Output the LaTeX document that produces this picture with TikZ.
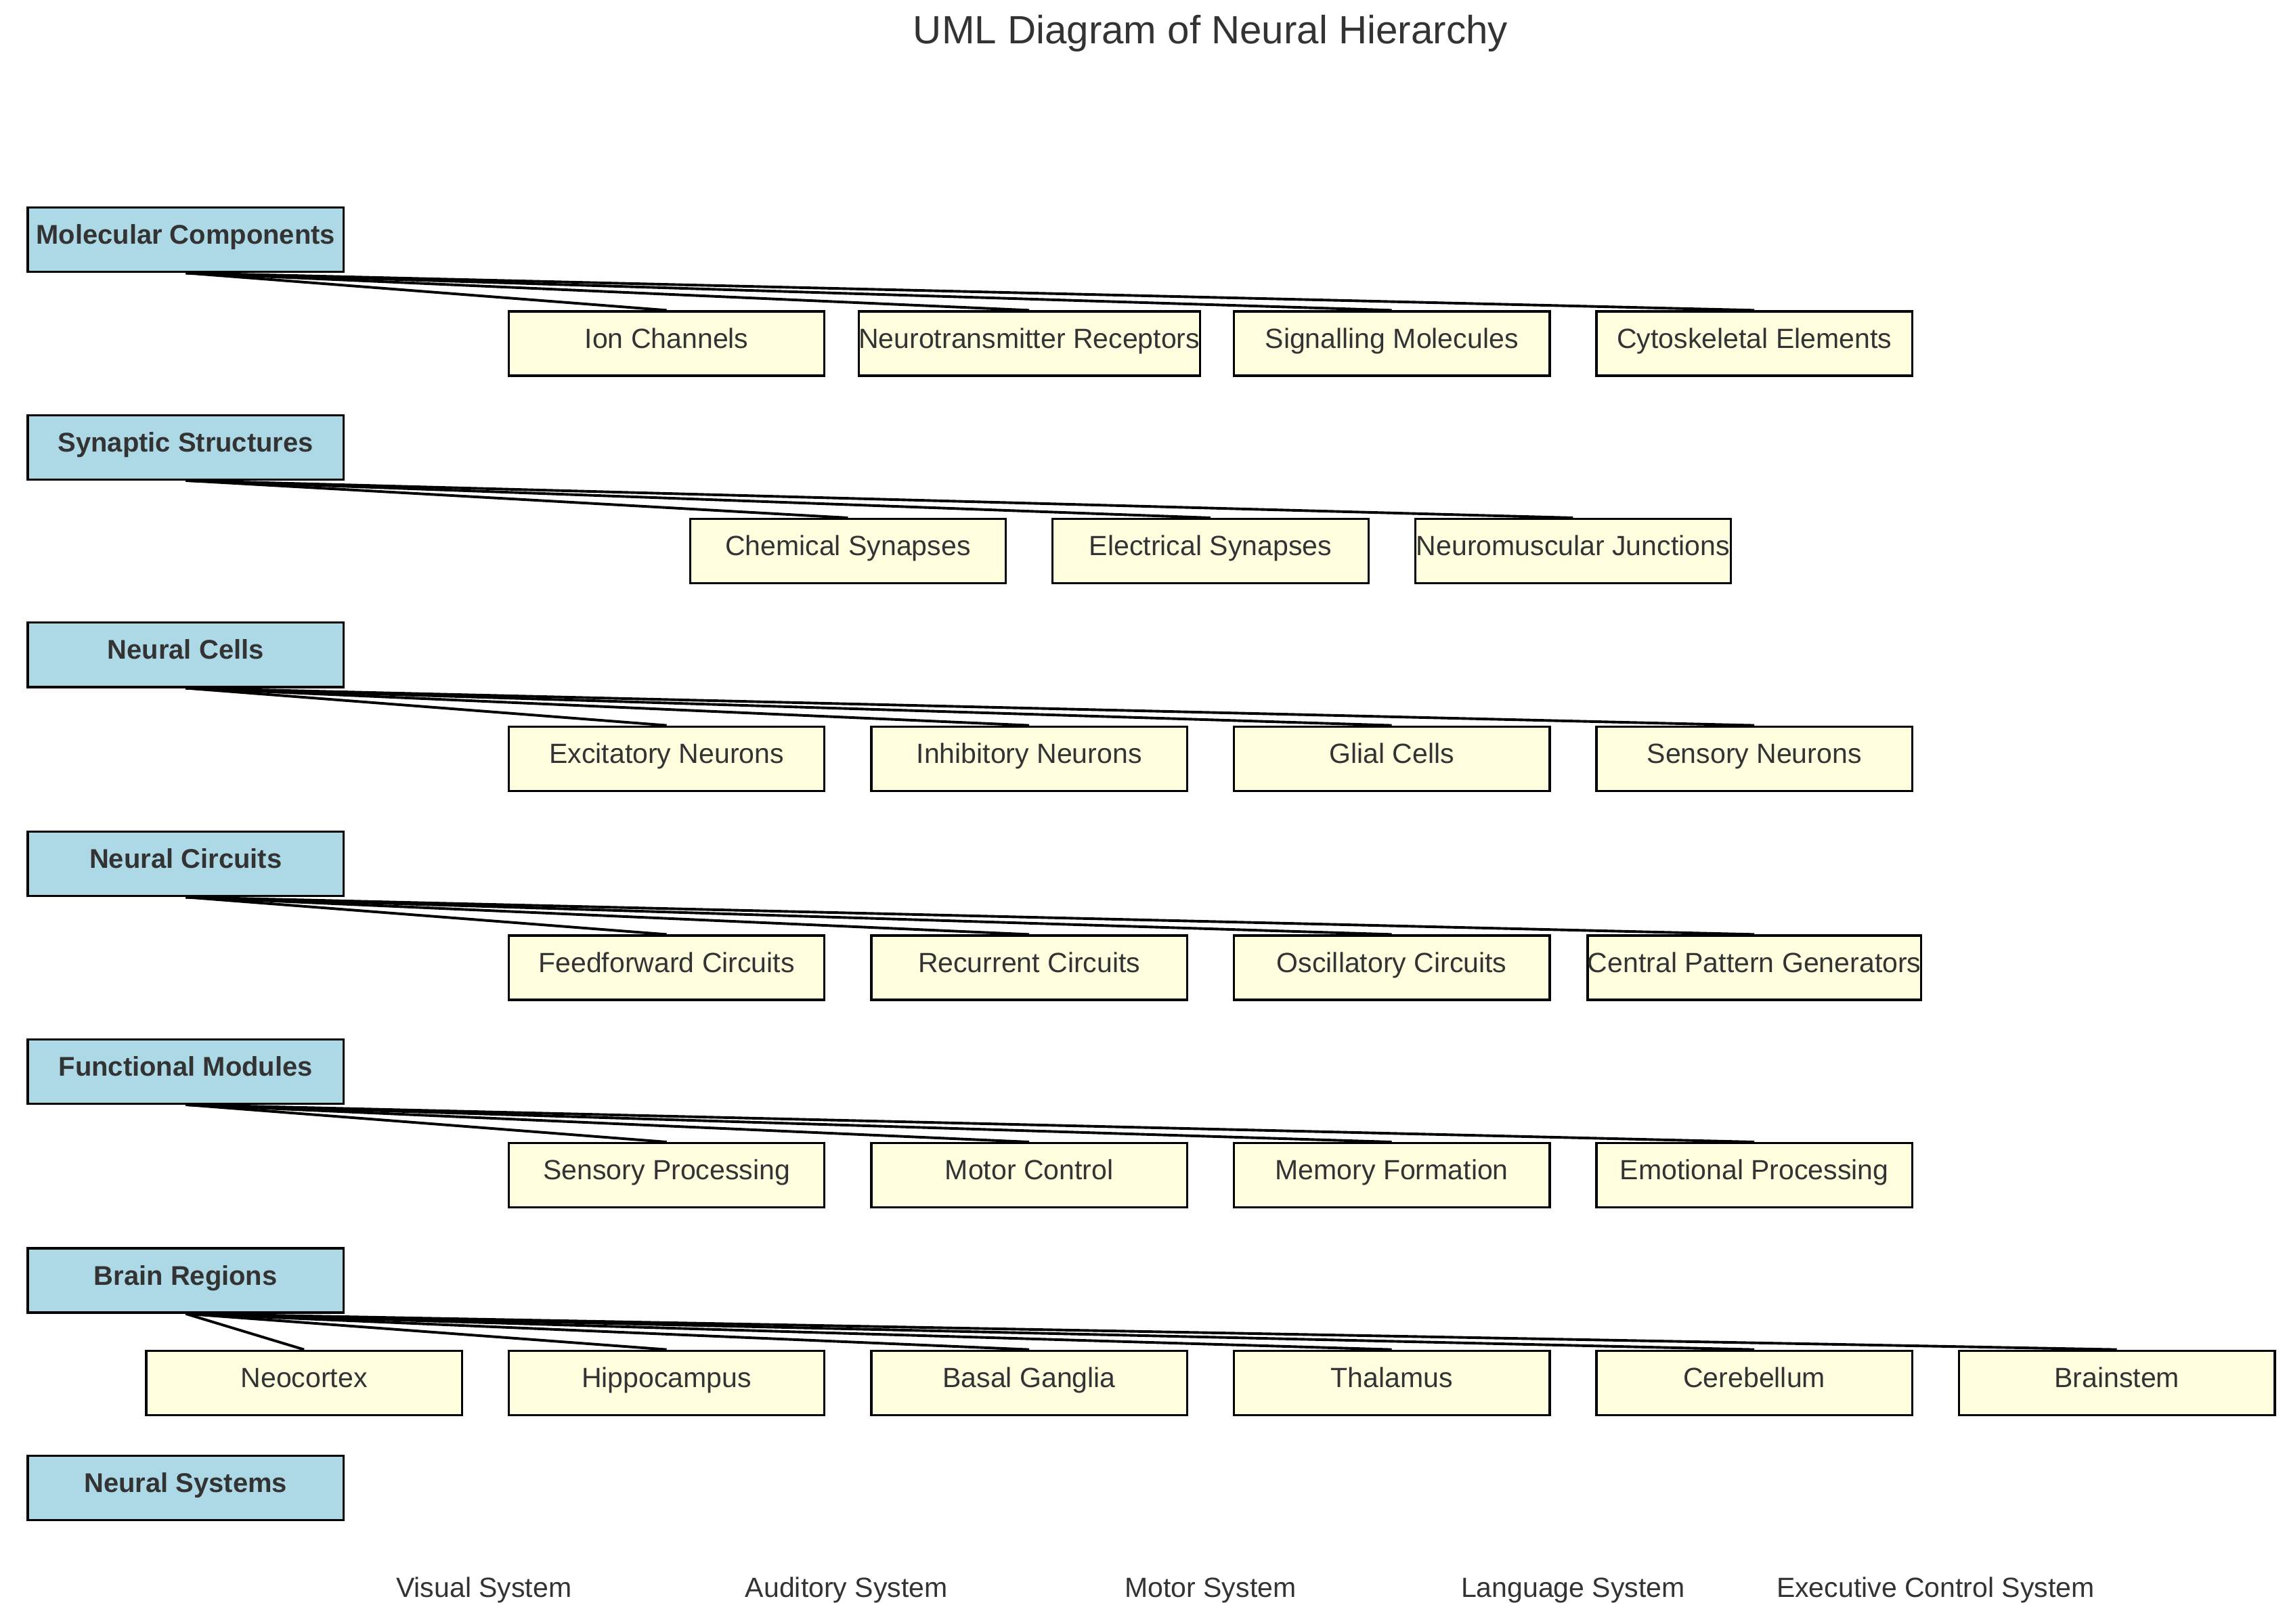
\documentclass[tikz,border=0pt]{standalone}
\usepackage{fontspec}
\setmainfont{Liberation Sans}
\definecolor{parentblue}{HTML}{ADD8E6}
\definecolor{childyellow}{HTML}{FFFFE0}
\definecolor{txtgray}{HTML}{333333}
\begin{document}
\begin{tikzpicture}[x=1pt,y=-1pt,
  box/.style={draw=black, line width=1.5pt, minimum width=216pt, minimum height=44pt, inner sep=0pt, text=txtgray, text height=1.45ex, text depth=.3ex},
  parent/.style={box, fill=parentblue, font=\fontsize{18.5}{22}\selectfont\bfseries},
  child/.style={box, fill=childyellow, font=\fontsize{19}{22}\selectfont},
  plain/.style={font=\fontsize{19}{22}\selectfont, text=txtgray},
  link/.style={black, line width=1.8pt}]
\useasboundingbox (0,0) rectangle (1563,1111);
\node[font=\fontsize{27}{32}\selectfont, text=txtgray] (title) at (828,23) {UML Diagram of Neural Hierarchy};

% parents
\node[parent] (mol) at (127,164) {Molecular Components};
\node[parent] (syn) at (127,306) {Synaptic Structures};
\node[parent] (cel) at (127,448) {Neural Cells};
\node[parent] (cir) at (127,591) {Neural Circuits};
\node[parent] (fun) at (127,733) {Functional Modules};
\node[parent] (reg) at (127,876) {Brain Regions};
\node[parent] (sys) at (127,1018) {Neural Systems};

% children
\foreach \i/\x/\t in {1/456/Ion Channels, 2/704/Neurotransmitter Receptors, 3/952/Signalling Molecules, 4/1200/Cytoskeletal Elements}
  {\node[child] (mol\i) at (\x,235) {\t}; \draw[link] (mol.south) -- (mol\i.north);}
\foreach \i/\x/\t in {1/580/Chemical Synapses, 2/828/Electrical Synapses, 3/1076/Neuromuscular Junctions}
  {\node[child] (syn\i) at (\x,377) {\t}; \draw[link] (syn.south) -- (syn\i.north);}
\foreach \i/\x/\t in {1/456/Excitatory Neurons, 2/704/Inhibitory Neurons, 3/952/Glial Cells, 4/1200/Sensory Neurons}
  {\node[child] (cel\i) at (\x,519) {\t}; \draw[link] (cel.south) -- (cel\i.north);}
\foreach \i/\x/\t in {1/456/Feedforward Circuits, 2/704/Recurrent Circuits, 3/952/Oscillatory Circuits, 4/1200/Central Pattern Generators}
  {\node[child] (cir\i) at (\x,662) {\t}; \draw[link] (cir.south) -- (cir\i.north);}
\foreach \i/\x/\t in {1/456/Sensory Processing, 2/704/Motor Control, 3/952/Memory Formation, 4/1200/Emotional Processing}
  {\node[child] (fun\i) at (\x,804) {\t}; \draw[link] (fun.south) -- (fun\i.north);}
\foreach \i/\x/\t in {1/208/Neocortex, 2/456/Hippocampus, 3/704/Basal Ganglia, 4/952/Thalamus, 5/1200/Cerebellum, 6/1448/Brainstem}
  {\node[child] (reg\i) at (\x,946) {\t}; \draw[link] (reg.south) -- (reg\i.north);}

% systems
\foreach \i/\x/\t in {1/331/Visual System, 2/579/Auditory System, 3/828/Motor System, 4/1076/Language System, 5/1324/Executive Control System}
  {\node[plain] (sys\i) at (\x,1088) {\t};}
\end{tikzpicture}
\end{document}
